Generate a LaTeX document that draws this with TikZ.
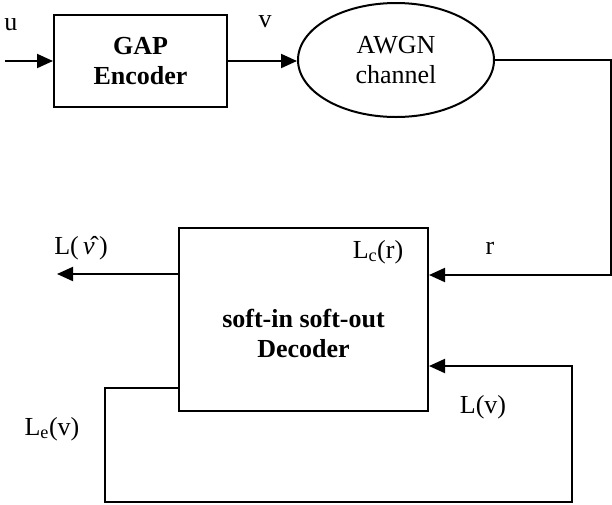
\documentclass[tikz,border=0pt]{standalone}
\usepackage{fontspec}
\setmainfont{Liberation Serif}
\usepackage{tikz}
\usetikzlibrary{shapes.geometric,arrows.meta,positioning,calc}

\newcommand{\bigtxt}{\fontsize{26}{30}\selectfont}

\tikzset{
  blockbox/.style={draw, line width=2pt, rectangle, align=center, font=\bigtxt\bfseries},
  chanbox/.style={draw, line width=2pt, ellipse, align=center, font=\bigtxt},
  sig/.style={line width=2pt},
  lbl/.style={inner sep=0pt, font=\bigtxt}
}

\begin{document}
\begin{tikzpicture}[x=1pt, y=-1pt, >={Triangle[length=16pt,width=14pt]}]
    \useasboundingbox (0,0) rectangle (612,504);

    % Encoder and channel
    \node[blockbox, minimum width=173pt, minimum height=92pt] (enc) at (140.5,61) {GAP\\Encoder};
    \node[chanbox, minimum width=196pt, minimum height=114pt, inner sep=0pt] (awgn) at (396,60) {AWGN\\channel};

    % Decoder
    \node[blockbox, minimum width=249pt, minimum height=183pt] (dec) at (303.5,319.5) {};
    \node[lbl, align=center, font=\bigtxt\bfseries] (dectxt) at (303.5,333) {soft-in soft-out\\Decoder};

    % Helper points
    \coordinate (in) at (5,61);
    \coordinate (rc) at (611,275);
    \coordinate (out) at (57,274);
    \coordinate (fb1) at (105,388);
    \coordinate (fb2) at (572,502);
    \coordinate (lv) at (572,366);

    % Arrows
    \draw[sig, ->] (in) -- (enc.west);
    \draw[sig, ->] (enc.east) -- (enc.east -| awgn.west);
    \draw[sig, ->] (awgn.east) -| (rc) -- (dec.east |- rc);
    \draw[sig, ->] (dec.west |- out) -- (out);
    \draw[sig, ->] (dec.west |- fb1) -- (fb1) |- (fb2) -- (lv) -- (dec.east |- lv);

    % Labels
    \node[lbl] (ulbl) at (11,25) {u};
    \node[lbl] (vlbl) at (265,22) {v};
    \node[lbl] (rlbl) at (490,248) {r};
    \node[lbl] (lcr) at (378,252) {L\textsubscript{c}(r)};
    \node[lbl] (lvhat) at (81,248) {L(\,\^{\textit{v}}\,)};
    \node[lbl] (lev) at (52,429) {L\textsubscript{e}(v)};
    \node[lbl] (llv) at (483,407) {L(v)};
\end{tikzpicture}
\end{document}
